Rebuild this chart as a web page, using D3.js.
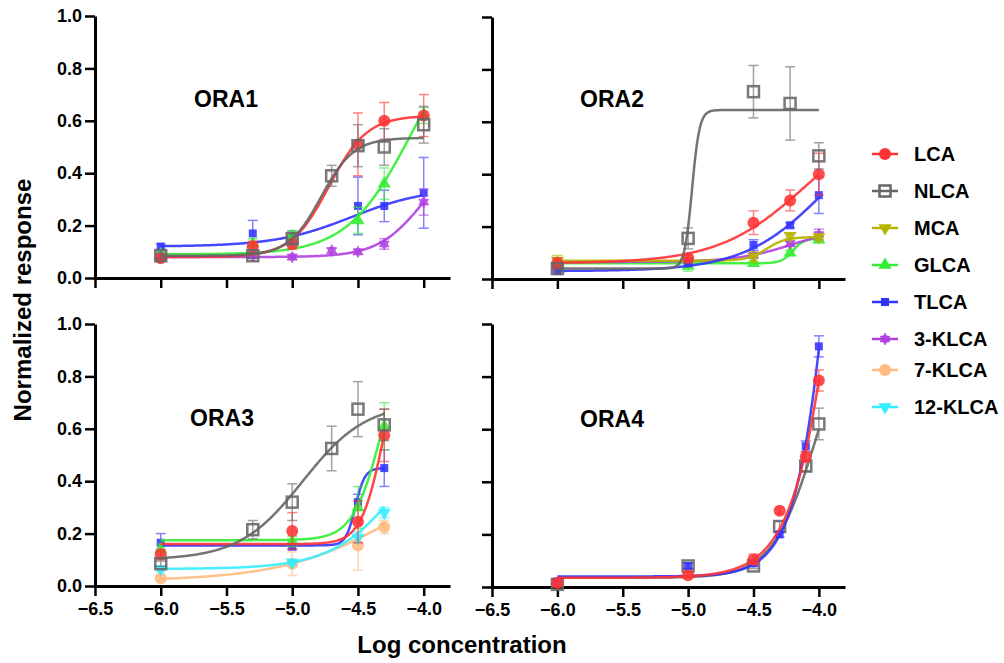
<!DOCTYPE html>
<html>
<head>
<meta charset="utf-8">
<script src="https://cdn.jsdelivr.net/npm/d3@7"></script>
<style>
  body { margin: 0; background: #fff; }
  text { font-family: "Liberation Sans", Arial, sans-serif; font-weight: bold; }
</style>
</head>
<body>
<div id="chart"></div>
<script>
// legend / series names
const seriesNames = ["LCA", "NLCA", "MCA", "GLCA", "TLCA", "3-KLCA", "7-KLCA", "12-KLCA"];

// ORA1
const ora1X = [-6, -5.3, -5, -4.7, -4.5, -4.3, -4];
const ora1Series = ["TLCA", "GLCA", "3-KLCA", "LCA", "NLCA"];
const ora1Mean = [
  [0.12, 0.17, 0.15, null, 0.275, 0.275, 0.325],
  [0.09, 0.13, 0.16, null, 0.22, 0.36, 0.62],
  [0.08, 0.085, 0.08, 0.105, 0.10, 0.13, 0.29],
  [0.075, 0.12, 0.13, null, 0.51, 0.60, 0.62],
  [0.085, 0.085, 0.15, 0.39, 0.505, 0.50, 0.585]
];
const ora1Err = [
  [0.01, 0.05, 0.03, null, 0.11, 0.06, 0.135],
  [0.01, 0.02, 0.02, null, 0.05, 0.06, 0.03],
  [0.01, 0.01, 0.01, 0.01, 0.01, 0.02, 0.05],
  [0.01, 0.02, 0.02, null, 0.12, 0.07, 0.08],
  [0.01, 0.01, 0.02, 0.04, 0.08, 0.07, 0.07]
];
// fitted curves: bottom, top, logEC50, hill
const ora1Fit = [
  [0.12, 0.345, -4.55, 1.5],
  [0.09, 1.0, -4.1, 1.8],
  [0.08, 0.5, -4.0, 2.5],
  [0.08, 0.62, -4.72, 3],
  [0.085, 0.535, -4.78, 3.5]
];

// ORA2
const ora2X = [-6, -5, -4.5, -4.22, -4];
const ora2Series = ["GLCA", "3-KLCA", "MCA", "TLCA", "LCA", "NLCA"];
const ora2Mean = [
  [0.06, 0.05, 0.06, 0.10, 0.15],
  [0.05, 0.07, 0.09, 0.135, 0.17],
  [0.07, 0.07, 0.085, 0.165, 0.16],
  [0.03, 0.06, 0.13, 0.205, 0.32],
  [0.06, 0.08, 0.215, 0.30, 0.40],
  [0.04, 0.155, 0.715, 0.67, 0.47]
];
const ora2Err = [
  [0.01, 0.02, 0.01, 0.01, 0.01],
  [0.01, 0.01, 0.01, 0.01, 0.02],
  [0.02, 0.01, 0.02, 0.01, 0.01],
  [0.01, 0.01, 0.02, 0.01, 0.07],
  [0.02, 0.01, 0.045, 0.04, 0.08],
  [0.01, 0.04, 0.10, 0.14, 0.05]
];
const ora2Fit = [
  [0.06, 0.155, -4.2, 10],
  [0.065, 0.2, -4.2, 2],
  [0.07, 0.16, -4.4, 6],
  [0.03, 0.64, -3.95, 1.4],
  [0.06, 0.65, -4.1, 1.3],
  [0.04, 0.645, -4.97, 15]
];

// ORA3
const ora3X = [-6, -5.3, -5, -4.7, -4.5, -4.3];
const ora3Series = ["7-KLCA", "12-KLCA", "TLCA", "GLCA", "LCA", "NLCA"];
const ora3Mean = [
  [0.03, null, 0.085, null, 0.155, 0.225],
  [0.065, null, 0.09, null, 0.185, 0.28],
  [0.165, null, 0.15, null, 0.32, 0.45],
  [0.14, null, 0.17, null, 0.30, 0.61],
  [0.12, null, 0.21, null, 0.245, 0.575],
  [0.085, 0.215, 0.32, 0.525, 0.675, 0.615]
];
const ora3Err = [
  [0.01, null, 0.045, null, 0.095, 0.025],
  [0.01, null, 0.01, null, 0.02, 0.02],
  [0.035, null, 0.01, null, 0.03, 0.07],
  [0.02, null, 0.02, null, 0.08, 0.09],
  [0.02, null, 0.07, null, 0.08, 0.10],
  [0.01, 0.035, 0.07, 0.085, 0.105, 0.06]
];
const ora3Fit = [
  [0.02, 0.5, -4.2, 1.0],
  [0.065, 0.8, -4.1, 1.6],
  [0.155, 0.45, -4.52, 12],
  [0.175, 1.0, -4.32, 4],
  [0.16, 1.0, -4.3, 5],
  [0.1, 0.7, -4.92, 1.8]
];

// ORA4
const ora4X = [-6, -5, -4.5, -4.3, -4.1, -4];
const ora4Series = ["NLCA", "TLCA", "LCA"];
const ora4Mean = [
  [0.01, 0.08, 0.08, 0.23, 0.46, 0.62],
  [0.02, 0.08, 0.09, 0.20, 0.535, 0.915],
  [0.015, 0.045, 0.105, 0.29, 0.495, 0.785]
];
const ora4Err = [
  [0.01, 0.01, 0.01, 0.02, 0.02, 0.06],
  [0.01, 0.01, 0.01, 0.01, 0.02, 0.04],
  [0.01, 0.01, 0.02, 0.01, 0.02, 0.04]
];
const ora4Fit = [
  [0.035, 1.1, -4.02, 2.6],
  [0.04, 5, -3.75, 2.7],
  [0.035, 5, -3.66, 2.2]
];

const xTicks = [-6.5, -6.0, -5.5, -5.0, -4.5, -4.0];
const yTicks = [0, 0.2, 0.4, 0.6, 0.8, 1.0];

// styles
const colors = {
  "LCA": "#ff3333", "NLCA": "#666666", "MCA": "#b5b500", "GLCA": "#33ee33",
  "TLCA": "#3333ff", "3-KLCA": "#b040e0", "7-KLCA": "#ffbb80", "12-KLCA": "#33eeff"
};

const width = 1004, height = 663;
const svg = d3.select("#chart").append("svg")
  .attr("width", width).attr("height", height);

const panels = [
  { title: "ORA1", x: ora1X, series: ora1Series, mean: ora1Mean, err: ora1Err, fit: ora1Fit,
    left: 95, right: 450, top: 16, bottom: 278, xLab: false, yLab: true, tx: 226, ty: 107 },
  { title: "ORA2", x: ora2X, series: ora2Series, mean: ora2Mean, err: ora2Err, fit: ora2Fit,
    left: 492, right: 845, top: 17, bottom: 279, xLab: false, yLab: false, tx: 612, ty: 107 },
  { title: "ORA3", x: ora3X, series: ora3Series, mean: ora3Mean, err: ora3Err, fit: ora3Fit,
    left: 95, right: 450, top: 324, bottom: 586, xLab: true, yLab: true, tx: 222, ty: 426 },
  { title: "ORA4", x: ora4X, series: ora4Series, mean: ora4Mean, err: ora4Err, fit: ora4Fit,
    left: 492, right: 845, top: 324, bottom: 587, xLab: true, yLab: false, tx: 612, ty: 427 }
];

function logistic(p, x) {
  const [b, t, ec, h] = p;
  return b + (t - b) / (1 + Math.pow(10, (ec - x) * h));
}

function drawMarker(g, name) {
  const c = colors[name];
  if (name === "LCA" || name === "7-KLCA") {
    g.append("circle").attr("r", 6).attr("fill", c);
  } else if (name === "NLCA") {
    g.append("rect").attr("x", -5.5).attr("y", -5.5).attr("width", 11).attr("height", 11)
      .attr("fill", "none").attr("stroke", c).attr("stroke-width", 2.5);
  } else if (name === "TLCA") {
    g.append("rect").attr("x", -4).attr("y", -4).attr("width", 8).attr("height", 8).attr("fill", c);
  } else if (name === "GLCA") {
    g.append("path").attr("d", d3.symbol(d3.symbolTriangle, 75)()).attr("fill", c);
  } else if (name === "MCA" || name === "12-KLCA") {
    g.append("path").attr("d", d3.symbol(d3.symbolTriangle, 75)())
      .attr("transform", "rotate(180)").attr("fill", c);
  } else if (name === "3-KLCA") {
    g.append("circle").attr("r", 4).attr("fill", c);
    g.append("path").attr("d", d3.symbol(d3.symbolAsterisk, 90)())
      .attr("stroke", c).attr("stroke-width", 1.8);
  }
}

panels.forEach(p => {
  const x = d3.scaleLinear().domain([-6.5, -3.8]).range([p.left, p.right]);
  const y = d3.scaleLinear().domain([0, 1]).range([p.bottom, p.top]);
  const g = svg.append("g");

  const xAxis = d3.axisBottom(x).tickValues(xTicks).tickSize(10).tickSizeOuter(0).tickPadding(6)
    .tickFormat(p.xLab ? d3.format(".1f") : "");
  const yAxis = d3.axisLeft(y).tickValues(yTicks).tickSize(10).tickSizeOuter(0).tickPadding(3)
    .tickFormat(p.yLab ? d3.format(".1f") : "");

  g.append("g").attr("transform", `translate(0,${p.bottom})`).call(xAxis);
  g.append("g").attr("transform", `translate(${p.left},0)`).call(yAxis);
  g.selectAll(".domain").attr("stroke", "#000").attr("stroke-width", 3);
  g.selectAll(".tick line").attr("stroke", "#000").attr("stroke-width", 2.5);
  g.selectAll(".tick text").attr("font-size", 18).attr("fill", "#000")
    .attr("font-family", "'Liberation Sans', Arial, sans-serif").attr("font-weight", "bold");

  g.append("text").attr("x", p.tx).attr("y", p.ty).attr("text-anchor", "middle")
    .attr("font-size", 23).text(p.title);

  const xEnd = d3.max(p.x);
  const grid = d3.range(-6, xEnd, 0.005).concat([xEnd]);
  const line = d3.line().x(d => x(d[0])).y(d => y(d[1]));

  p.series.forEach((name, i) => {
    const c = colors[name];
    const sg = g.append("g");
    const pts = p.x.map((xv, j) => ({ x: xv, m: p.mean[i][j], e: p.err[i][j] }))
      .filter(d => d.m !== null);

    // error bars
    const eb = sg.append("g").attr("stroke", c).attr("stroke-width", 1.5).attr("opacity", 0.6);
    pts.forEach(d => {
      const y1 = y(d.m - d.e), y2 = y(d.m + d.e), cx = x(d.x);
      eb.append("line").attr("x1", cx).attr("x2", cx).attr("y1", y1).attr("y2", y2);
      eb.append("line").attr("x1", cx - 5).attr("x2", cx + 5).attr("y1", y1).attr("y2", y1);
      eb.append("line").attr("x1", cx - 5).attr("x2", cx + 5).attr("y1", y2).attr("y2", y2);
    });

    // fitted curve
    sg.append("path")
      .datum(grid.map(v => [v, logistic(p.fit[i], v)]))
      .attr("d", line).attr("fill", "none").attr("stroke", c)
      .attr("stroke-width", 2.5).attr("opacity", 0.9);

    // markers
    pts.forEach(d => {
      const mg = sg.append("g").attr("transform", `translate(${x(d.x)},${y(d.m)})`).attr("opacity", 0.88);
      drawMarker(mg, name);
    });
  });
});

// axis titles
svg.append("text").attr("transform", "translate(31,300) rotate(-90)")
  .attr("text-anchor", "middle").attr("font-size", 24).text("Normalized response");
svg.append("text").attr("x", 462).attr("y", 653).attr("text-anchor", "middle")
  .attr("font-size", 24).text("Log concentration");

// legend
const legendY = [154, 191, 228, 265, 302, 339, 370, 407];
const legend = svg.append("g");
seriesNames.forEach((name, i) => {
  const lg = legend.append("g").attr("transform", `translate(885,${legendY[i]})`);
  lg.append("line").attr("x1", -13).attr("x2", 13).attr("stroke", colors[name]).attr("stroke-width", 2.5);
  drawMarker(lg, name);
  lg.append("text").attr("x", 29).attr("dy", "0.36em").attr("font-size", 20).text(name);
});
</script>
</body>
</html>
